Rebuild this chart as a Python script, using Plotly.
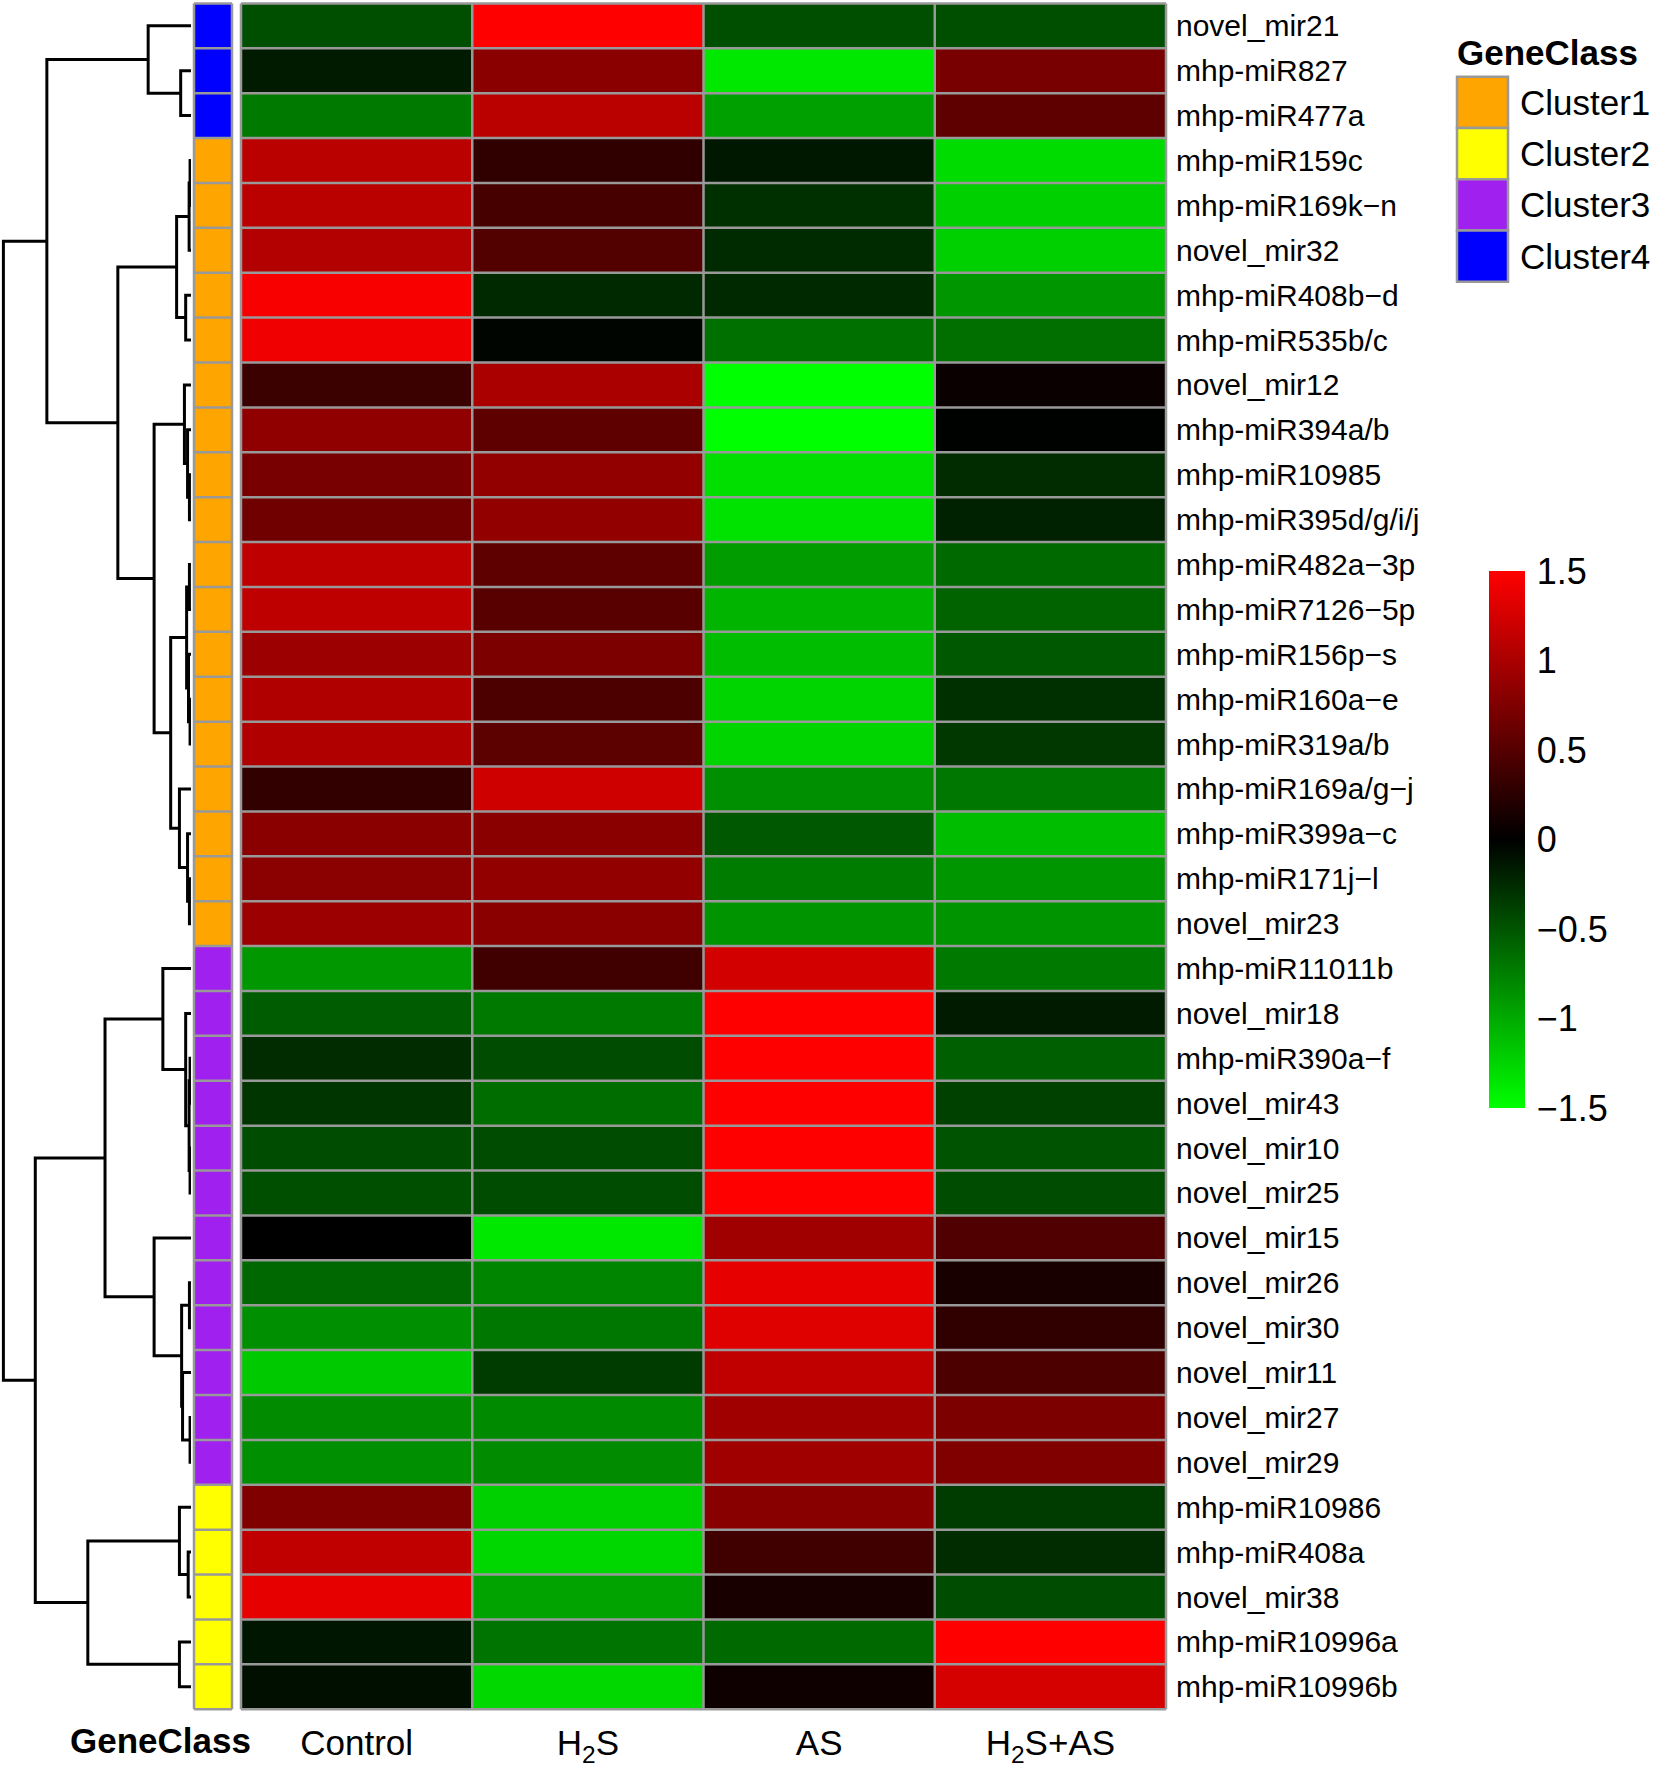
import plotly.graph_objects as go

W, H = 1655, 1768

# rows in dendrogram order, top to bottom
rows = ["novel_mir21", "mhp-miR827", "mhp-miR477a", "mhp-miR159c", "mhp-miR169k−n",
        "novel_mir32", "mhp-miR408b−d", "mhp-miR535b/c", "novel_mir12", "mhp-miR394a/b",
        "mhp-miR10985", "mhp-miR395d/g/i/j", "mhp-miR482a−3p", "mhp-miR7126−5p",
        "mhp-miR156p−s", "mhp-miR160a−e", "mhp-miR319a/b", "mhp-miR169a/g−j",
        "mhp-miR399a−c", "mhp-miR171j−l", "novel_mir23", "mhp-miR11011b", "novel_mir18",
        "mhp-miR390a−f", "novel_mir43", "novel_mir10", "novel_mir25", "novel_mir15",
        "novel_mir26", "novel_mir30", "novel_mir11", "novel_mir27", "novel_mir29",
        "mhp-miR10986", "mhp-miR408a", "novel_mir38", "mhp-miR10996a", "mhp-miR10996b"]

groups = ["Control", "H<sub>2</sub>S", "AS", "H<sub>2</sub>S+AS"]

# z-scores per treatment
control = [-0.46, -0.16, -0.71, 1.10, 1.10, 1.05, 1.46, 1.41, 0.35, 0.85, 0.71, 0.66, 1.12,
           1.12, 0.92, 1.04, 1.04, 0.30, 0.81, 0.82, 0.92, -0.89, -0.54, -0.26, -0.31, -0.45,
           -0.46, 0.0, -0.61, -0.84, -1.18, -0.82, -0.84, 0.75, 1.13, 1.36, -0.13, -0.09]
h2s = [1.5, 0.81, 1.10, 0.28, 0.41, 0.48, -0.24, -0.03, 1.0, 0.56, 0.86, 0.86, 0.56, 0.52,
       0.73, 0.45, 0.54, 1.22, 0.81, 0.86, 0.81, 0.38, -0.71, -0.45, -0.64, -0.45, -0.45,
       -1.36, -0.78, -0.70, -0.35, -0.81, -0.82, -1.22, -1.26, -0.96, -0.68, -1.27]
as_ = [-0.46, -1.36, -0.94, -0.14, -0.28, -0.25, -0.24, -0.66, -1.5, -1.5, -1.31, -1.33, -0.92,
       -1.06, -1.11, -1.25, -1.25, -0.84, -0.52, -0.73, -0.87, 1.24, 1.5, 1.5, 1.5, 1.5, 1.5,
       0.94, 1.35, 1.31, 1.13, 0.94, 0.94, 0.80, 0.38, 0.14, -0.62, 0.09]
h2s_as = [-0.46, 0.71, 0.56, -1.29, -1.22, -1.22, -0.88, -0.65, 0.06, -0.01, -0.26, -0.20, -0.62,
          -0.58, -0.52, -0.28, -0.33, -0.70, -1.11, -0.88, -0.87, -0.71, -0.16, -0.56, -0.38,
          -0.49, -0.45, 0.47, 0.15, 0.28, 0.45, 0.73, 0.75, -0.35, -0.26, -0.45, 1.5, 1.25]

gene_class = ["Cluster4"] * 3 + ["Cluster1"] * 18 + ["Cluster3"] * 12 + ["Cluster2"] * 5
class_names = ["Cluster1", "Cluster2", "Cluster3", "Cluster4"]
class_colors = ["#FFA500", "#FFFF00", "#A020F0", "#0000FF"]

# hclust-style merges: negative = row (1-based), positive = earlier merge (1-based)
merge_a = [-4, 1, -7, 2, -11, -10, -9, -13, -16, -15, 8, -20, -19, -18, 11, 7, 4, -2, -1, 19,
           -24, -26, 21, -23, -22, -29, -32, -31, 26, -28, 25, -35, -34, -37, 33, 31, 20]
merge_b = [-5, -6, -8, 3, -12, 5, 6, -14, -17, 9, 10, -21, 12, 13, 14, 15, 16, -3, 18, 17,
           -25, -27, 22, 23, 24, -30, -33, 27, 28, 29, 30, -36, 32, -38, 34, 35, 36]
merge_h = [0.03, 0.06, 0.17, 0.46, 0.05, 0.11, 0.21, 0.05, 0.03, 0.08, 0.14, 0.05, 0.11, 0.37,
           0.65, 1.18, 2.34, 0.33, 1.37, 4.61, 0.03, 0.03, 0.06, 0.17, 0.90, 0.05, 0.03, 0.27,
           0.30, 1.18, 2.75, 0.09, 0.37, 0.37, 3.30, 4.98, 6.0]

BORDER = "#999999"
PAD = 3  # px of white kept around the cell blocks so the outer border is not clipped


def px(x):
    return x / W


def py(y):
    return 1 - y / H


# dendrogram segments
pos = {}
seg_x, seg_y = [], []
for i, (a, b, h) in enumerate(zip(merge_a, merge_b, merge_h), start=1):
    ya, ha = (-a - 1, 0.0) if a < 0 else pos[a]
    yb, hb = (-b - 1, 0.0) if b < 0 else pos[b]
    seg_x += [ha, h, h, hb, None]
    seg_y += [ya, ya, yb, yb, None]
    pos[i] = ((ya + yb) / 2, h)
root_h = max(merge_h)

n_rows, n_cols = len(rows), len(groups)
z = [list(v) for v in zip(control, h2s, as_, h2s_as)]
row_idx = list(range(n_rows))
class_z = [[class_names.index(c) + 1] for c in gene_class]

class_scale = []
for k, col in enumerate(class_colors):
    class_scale += [[k / 4, col], [(k + 1) / 4, col]]


def cell_borders(ncol, nrow):
    gx, gy = [], []
    for c in range(ncol + 1):
        gx += [c - 0.5, c - 0.5, None]
        gy += [-0.5, nrow - 0.5, None]
    for r in range(nrow + 1):
        gx += [-0.5, ncol - 0.5, None]
        gy += [r - 0.5, r - 0.5, None]
    return gx, gy


# pixel frame of the blocks (from the reference)
hm_l, hm_r, hm_t, hm_b = 241, 1166, 3.4, 1717
an_l, an_r = 194, 232
cell_w = (hm_r - hm_l) / n_cols
cell_h = (hm_b - hm_t) / n_rows
an_w = an_r - an_l

fig = go.Figure()

fig.add_trace(go.Heatmap(
    z=z, x=list(range(n_cols)), y=row_idx,
    colorscale=[[0, "#00FF00"], [0.5, "#000000"], [1, "#FF0000"]],
    zmin=-1.5, zmax=1.5, hoverinfo="skip",
    colorbar=dict(x=px(1489), xanchor="left", xpad=0, ypad=0,
                  y=py((574 + 1113) / 2), yanchor="middle",
                  len=(1113 - 574) / H, thickness=36, outlinewidth=0,
                  tickvals=[-1.5, -1, -0.5, 0, 0.5, 1, 1.5],
                  ticks="outside", ticklen=5, tickcolor="rgba(0,0,0,0)",
                  tickfont=dict(size=36, color="black"))
))
gx, gy = cell_borders(n_cols, n_rows)
fig.add_trace(go.Scatter(x=gx, y=gy, mode="lines", line=dict(color=BORDER, width=2.5),
                         hoverinfo="skip", showlegend=False))

fig.add_trace(go.Heatmap(
    z=class_z, x=[0], y=row_idx, xaxis="x2", yaxis="y",
    colorscale=class_scale, zmin=0.5, zmax=4.5, showscale=False, hoverinfo="skip"
))
gx, gy = cell_borders(1, n_rows)
fig.add_trace(go.Scatter(x=gx, y=gy, xaxis="x2", yaxis="y", mode="lines",
                         line=dict(color=BORDER, width=2.5), hoverinfo="skip",
                         showlegend=False))

fig.add_trace(go.Scatter(
    x=seg_x, y=seg_y, xaxis="x3", yaxis="y", mode="lines",
    line=dict(color="black", width=3), hoverinfo="skip", showlegend=False
))

shapes = []
annotations = [
    dict(text="<b>GeneClass</b>", x=px(253), y=py(1748), xref="paper", yref="paper",
         xanchor="right", yanchor="middle", showarrow=False, font=dict(size=35)),
    dict(text="<b>GeneClass</b>", x=px(1455), y=py(53), xref="paper", yref="paper",
         xanchor="left", yanchor="middle", showarrow=False, font=dict(size=35)),
]
box_h = 51.5
for k, (name, col) in enumerate(zip(class_names, class_colors)):
    y0 = 77 + k * box_h
    shapes.append(dict(type="rect", xref="paper", yref="paper",
                       x0=px(1457), x1=px(1508), y0=py(y0), y1=py(y0 + box_h),
                       fillcolor=col, line=dict(color=BORDER, width=2.5)))
    annotations.append(dict(text=name, x=px(1518), y=py(y0 + box_h / 2), xref="paper",
                            yref="paper", xanchor="left", yanchor="middle",
                            showarrow=False, font=dict(size=35)))

fig.update_layout(
    width=W, height=H,
    margin=dict(l=0, r=0, t=0, b=0),
    paper_bgcolor="white", plot_bgcolor="white",
    font=dict(family="Liberation Sans, Arial, sans-serif", color="black"),
    showlegend=False,
    xaxis=dict(domain=[px(hm_l - PAD), px(hm_r + PAD)],
               range=[-0.5 - PAD / cell_w, n_cols - 0.5 + PAD / cell_w], anchor="y",
               tickvals=list(range(n_cols)), ticktext=groups, ticks="", showgrid=False,
               zeroline=False, showline=False, tickfont=dict(size=35), ticklabelstandoff=7),
    yaxis=dict(domain=[py(hm_b + PAD), py(hm_t - PAD)],
               range=[n_rows - 0.5 + PAD / cell_h, -0.5 - PAD / cell_h], anchor="x",
               side="right", tickvals=row_idx, ticktext=rows, ticks="", showgrid=False,
               zeroline=False, showline=False, tickfont=dict(size=30), ticklabelstandoff=6),
    xaxis2=dict(domain=[px(an_l - PAD), px(an_r + PAD)],
                range=[-0.5 - PAD / an_w, 0.5 + PAD / an_w], anchor="y", visible=False),
    xaxis3=dict(domain=[0, px(191)], range=[root_h * 191 / (191 - 3.4), 0], anchor="y",
                visible=False),
    shapes=shapes,
    annotations=annotations,
)

fig.write_html("out.html", config={"displayModeBar": False},
               post_script="document.body.style.margin='0';")
